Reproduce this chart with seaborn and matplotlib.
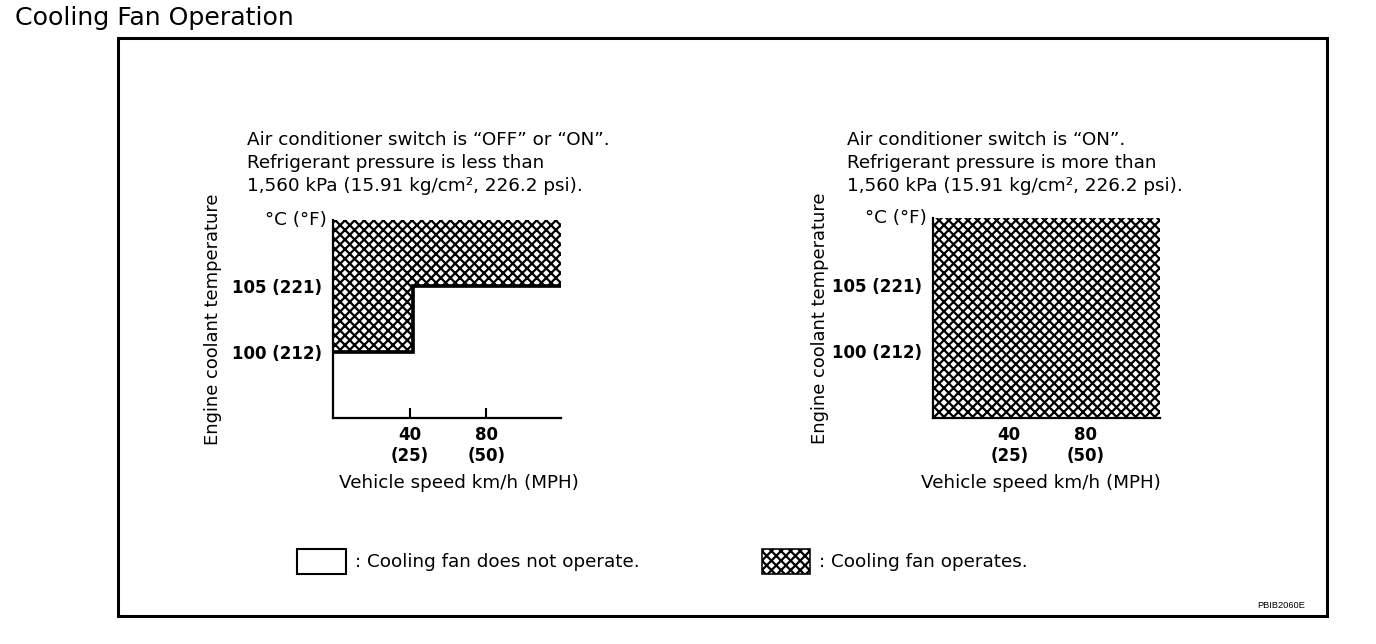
import matplotlib
matplotlib.use("Agg")
import matplotlib.pyplot as plt
from matplotlib.patches import Rectangle
import seaborn as sns

# ---------------- data ----------------
title = "Cooling Fan Operation"
left_caption = ["Air conditioner switch is \u201cOFF\u201d or \u201cON\u201d.",
                "Refrigerant pressure is less than",
                "1,560 kPa (15.91 kg/cm\u00b2, 226.2 psi)."]
right_caption = ["Air conditioner switch is \u201cON\u201d.",
                 "Refrigerant pressure is more than",
                 "1,560 kPa (15.91 kg/cm\u00b2, 226.2 psi)."]
speed_ticks = [40, 80]
speed_tick_labels = ["40\n(25)", "80\n(50)"]
temp_ticks = [100, 105]
temp_tick_labels = ["100 (212)", "105 (221)"]
speed_range = [0, 119]
temp_range = [95, 110]
# left panel: fan-on threshold temperature vs vehicle speed (step)
left_speed = [0, 42, 42, 119]
left_threshold = [100, 100, 105, 105]
# right panel: fan operates at every temperature in the range
right_speed = [0, 119]
right_threshold = [95, 95]
xlabel = "Vehicle speed km/h (MPH)"
ylabel = "Engine coolant temperature"
unit_label = "\u00b0C (\u00b0F)"
legend_labels = [": Cooling fan does not operate.", ": Cooling fan operates."]
code_label = "PBIB2060E"

# ---------------- style ----------------
sns.set_style("white")
plt.rcParams["font.family"] = ["DejaVu Sans"]
plt.rcParams["hatch.linewidth"] = 1.4
plt.rcParams["hatch.color"] = "black"
plt.rcParams["text.color"] = "black"
plt.rcParams["axes.labelcolor"] = "black"
plt.rcParams["xtick.color"] = "black"
plt.rcParams["ytick.color"] = "black"

W, H, DPI = 1376, 644, 115
fig = plt.figure(figsize=(W / DPI, H / DPI), dpi=DPI)
fig.patch.set_facecolor("white")

FS = 11.5
FS_Y = 11.2
FS_B = 10.4
HATCH = "xxxx"


def fx(px):
    return px / W


def fy(py):
    return 1 - py / H


# title
fig.text(fx(15), fy(18), title, fontsize=15.8, ha="left", va="center", color="black")

# outer frame
fig.patches.append(Rectangle((fx(118), fy(616)), fx(1327) - fx(118), fy(38) - fy(616),
                             transform=fig.transFigure, fill=False, edgecolor="black",
                             linewidth=1.9, zorder=5))


def make_panel(left_px, top_px, right_px, bottom_px, speed, thr, caption, cap_x,
               xlab_x, ylab_x):
    ax = fig.add_axes([fx(left_px), fy(bottom_px), fx(right_px - left_px),
                       (bottom_px - top_px) / H])
    ax.set_xlim(*speed_range)
    ax.set_ylim(*temp_range)
    ax.set_facecolor("none")
    ax.fill_between(speed, thr, temp_range[1], facecolor="white", edgecolor="black",
                    hatch=HATCH, linewidth=0, zorder=1)
    for s in ["top", "right"]:
        ax.spines[s].set_visible(False)
    for s in ["left", "bottom"]:
        ax.spines[s].set_color("black")
        ax.spines[s].set_linewidth(1.4)
        ax.spines[s].set_zorder(4)
    ax.set_xticks(speed_ticks, speed_tick_labels, fontweight="bold", fontsize=FS_B,
                  linespacing=1.25)
    ax.set_yticks(temp_ticks, temp_tick_labels, fontweight="bold", fontsize=FS_B)
    ax.tick_params(axis="x", direction="in", length=6.5, width=1.3, pad=5,
                   colors="black", bottom=True)
    ax.tick_params(axis="y", direction="in", length=3, width=1.3, pad=7,
                   colors="black", left=True)
    ax.set_xlabel(xlabel, fontsize=FS, color="black")
    ax.xaxis.set_label_coords(xlab_x, (418 - 474) / (bottom_px - top_px))
    ax.set_ylabel(ylabel, fontsize=FS_Y, color="black")
    ax.yaxis.set_label_coords(ylab_x, 0.5)
    ax.annotate(unit_label, xy=(0, 1), xycoords="axes fraction", xytext=(-4, 0),
                textcoords="offset points", ha="right", va="center", fontsize=FS)
    for i, line in enumerate(caption):
        fig.text(fx(cap_x), fy(140 + 23 * i), line, fontsize=FS, ha="left",
                 va="center", color="black")
    return ax


axL = make_panel(333, 220, 561, 418, left_speed, left_threshold, left_caption, 247,
                 (459 - 333) / 228, (222 - 333) / 228)
sns.lineplot(x=left_speed, y=left_threshold, ax=axL, color="black", linewidth=2.3,
             sort=False, estimator=None, zorder=3)
axL.lines[-1].set_solid_joinstyle("miter")
axL.lines[-1].set_solid_capstyle("butt")

axR = make_panel(933, 218, 1160, 418, right_speed, right_threshold, right_caption, 847,
                 (1041 - 933) / 227, (829 - 933) / 227)

# legend
fig.patches.append(Rectangle((fx(297), fy(574)), fx(346) - fx(297), fy(549) - fy(574),
                             transform=fig.transFigure, facecolor="white",
                             edgecolor="black", linewidth=1.3))
fig.text(fx(355), fy(562), legend_labels[0], fontsize=FS, ha="left", va="center")
fig.patches.append(Rectangle((fx(762), fy(574)), fx(810) - fx(762), fy(549) - fy(574),
                             transform=fig.transFigure, facecolor="white",
                             edgecolor="black", hatch=HATCH, linewidth=1.0))
fig.text(fx(819), fy(562), legend_labels[1], fontsize=FS, ha="left", va="center")

fig.text(fx(1305), fy(606), code_label, fontsize=5.8, ha="right", va="center",
         family=["Liberation Sans", "DejaVu Sans"])

fig.savefig("out.png", dpi=DPI, facecolor="white")
